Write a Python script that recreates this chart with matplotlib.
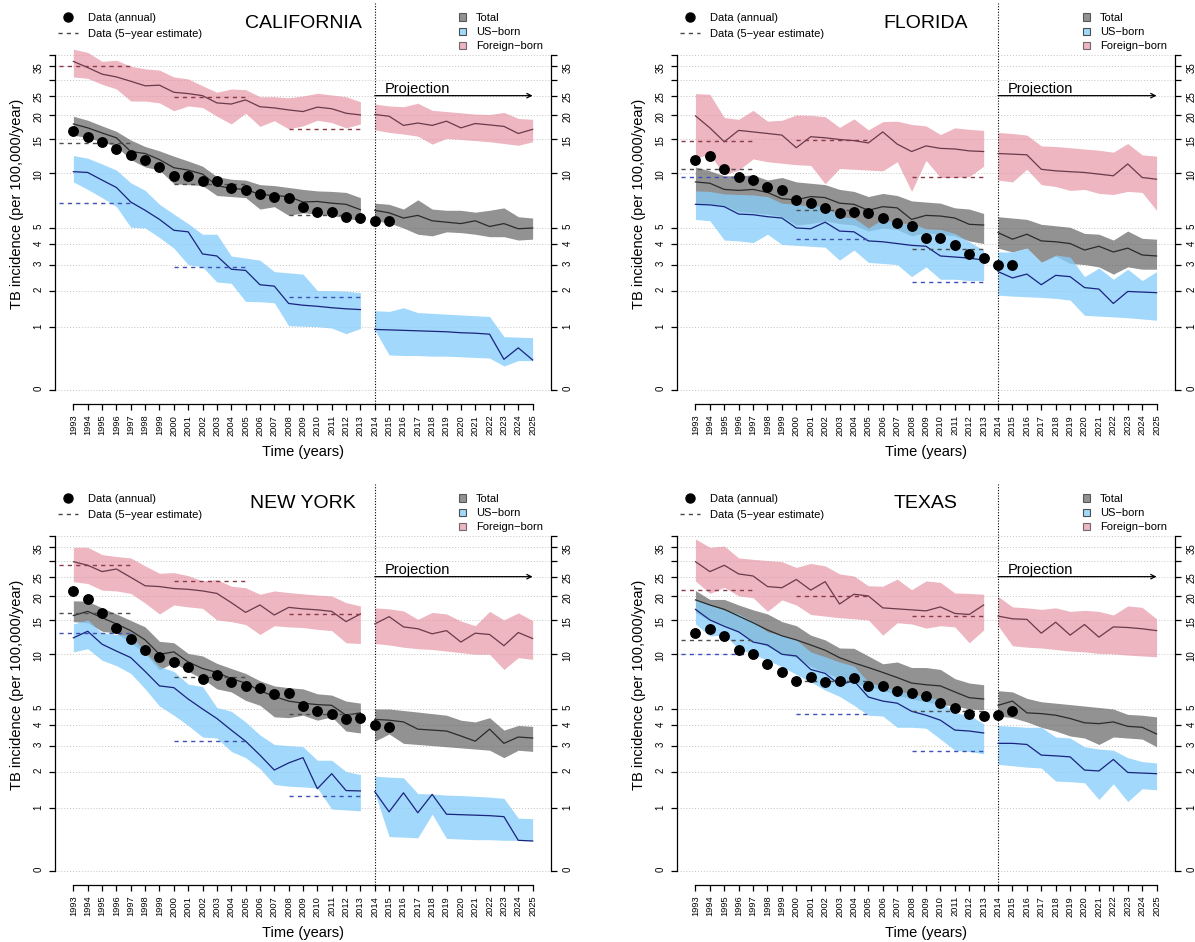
import numpy as np
import matplotlib
matplotlib.use("Agg")
import matplotlib.pyplot as plt
from matplotlib.lines import Line2D
from matplotlib.patches import Patch

plt.rcParams['font.family'] = ['Liberation Sans', 'DejaVu Sans']

# ---- data ----
years = np.arange(1993, 2026)          # model years, 1993-2013 fitted, 2014-2025 projection
years_obs = np.arange(1993, 2016)      # annual notifications
est_start = [1992, 2000, 2008]         # 5-year estimate periods
est_end = [1997, 2005, 2013]

# California
ca_total_mid = [18, 17.2, 16.2, 15.3, 13, 12.7, 11.8, 10.7, 10.4, 9.9, 8.6, 8.3, 8.2, 7.7, 7.6, 7.5, 7.0, 7.05, 6.9, 6.8, 6.35,
                6.3, 6.1, 5.7, 5.9, 5.5, 5.4, 5.3, 5.5, 5.1, 5.3, 4.95, 5.0]
ca_total_lo = [15.8, 15.3, 14.6, 13.8, 11.8, 10.8, 10.4, 8.8, 8.7, 8.6, 7.6, 7.5, 7.4, 6.4, 6.6, 5.9, 6.1, 6.0, 5.9, 5.7, 5.5,
               5.5, 5.35, 5.0, 4.6, 4.5, 4.75, 4.7, 4.6, 4.45, 4.45, 4.25, 4.3]
ca_total_hi = [19.7, 18.8, 17.6, 16.5, 14.9, 13.8, 13.1, 12.3, 11.6, 10.9, 9.6, 9.3, 9.2, 8.7, 8.6, 8.4, 8.2, 8.05, 8.0, 7.9, 7.4,
               6.9, 6.8, 6.4, 7.2, 6.4, 6.3, 6.3, 6.15, 6.3, 6.5, 5.8, 5.7]
ca_us_mid = [10.2, 10.1, 9.2, 8.4, 7.0, 6.3, 5.6, 4.85, 4.75, 3.5, 3.4, 2.8, 2.75, 2.2, 2.15, 1.6, 1.55, 1.52, 1.48, 1.45, 1.43,
             0.95, 0.94, 0.93, 0.92, 0.91, 0.9, 0.88, 0.87, 0.85, 0.4, 0.59, 0.39]
ca_us_lo = [9.0, 8.2, 7.4, 6.6, 5.05, 5.0, 4.4, 3.8, 3.0, 2.9, 2.3, 2.25, 1.66, 1.65, 1.62, 1.03, 1.02, 1.01, 0.98, 0.86, 0.97,
            0.94, 0.47, 0.46, 0.46, 0.45, 0.45, 0.44, 0.43, 0.42, 0.3, 0.38, 0.38]
ca_us_hi = [12.4, 12.0, 11.2, 10.4, 8.9, 8.1, 6.8, 6.0, 5.3, 4.6, 4.6, 3.4, 3.3, 3.2, 2.7, 2.65, 2.6, 2.0, 2.0, 1.98, 1.93,
            1.4, 1.38, 1.48, 1.35, 1.33, 1.31, 1.29, 1.27, 1.25, 0.8, 0.79, 0.78]
ca_fb_mid = [37, 34.5, 32, 31, 29.5, 28, 28.2, 26, 25.6, 25, 23, 22.7, 23.8, 22, 21.7, 21.2, 20.8, 21.9, 21.5, 20.4, 20,
             20.1, 19.7, 17.7, 18.2, 17.7, 18.6, 17.2, 18.1, 17.8, 17.5, 16.1, 16.9]
ca_fb_lo = [31, 30.5, 28.5, 27, 23.5, 23.5, 23, 21, 22.2, 21.8, 19.7, 18, 20.4, 17.5, 18.7, 17, 17.6, 18.8, 18.3, 17.2, 18,
            16.8, 16.3, 16.0, 15.6, 14.2, 15.2, 15.0, 14.8, 14.6, 14.3, 14.0, 14.6]
ca_fb_hi = [42.5, 41, 37, 37.5, 35, 34, 33.5, 31, 30.3, 28, 26, 27, 26.8, 24.7, 24.7, 24.4, 24.9, 25.7, 25.2, 24.7, 23.3,
            22.7, 22.2, 22.0, 22.9, 21.1, 20.8, 20.5, 20.2, 20.1, 20.6, 19.2, 19.0]
ca_obs = [16.5, 15.4, 14.6, 13.4, 12.5, 11.7, 10.8, 9.7, 9.7, 9.1, 9.1, 8.3, 8.1, 7.7, 7.5, 7.4, 6.6, 6.2, 6.2, 5.8, 5.7, 5.5, 5.5]
ca_est_total = [14.4, 8.8, 5.9]
ca_est_us = [6.9, 2.9, 1.8]
ca_est_fb = [35, 24.5, 17]

# Florida
fl_total_mid = [9.0, 8.85, 8.2, 8.1, 8.2, 7.9, 7.3, 7.2, 7.5, 7.4, 6.9, 6.8, 6.3, 6.6, 6.5, 5.6, 5.9, 5.85, 5.7, 5.25, 5.2,
                4.7, 4.3, 4.6, 4.2, 4.15, 4.05, 3.7, 3.9, 3.6, 3.8, 3.45, 3.4]
fl_total_lo = [6.9, 6.85, 6.7, 6.2, 6.1, 6.0, 5.8, 5.2, 5.3, 5.5, 5.3, 5.2, 4.8, 5.0, 4.9, 4.5, 4.7, 4.6, 4.5, 4.2, 4.05,
               3.8, 3.6, 3.8, 3.1, 3.4, 3.05, 3.0, 2.9, 2.6, 2.9, 2.8, 2.8]
fl_total_hi = [10.8, 10.3, 9.7, 9.7, 9.8, 9.2, 9.5, 9.0, 8.85, 8.7, 8.2, 8.0, 7.5, 7.8, 7.6, 7.1, 7.0, 6.9, 6.5, 6.4, 6.05,
               5.8, 5.7, 5.6, 5.25, 5.15, 5.05, 4.65, 4.6, 4.25, 4.8, 4.35, 4.3]
fl_us_mid = [6.8, 6.75, 6.6, 6.0, 5.95, 5.8, 5.7, 5.0, 4.95, 5.4, 4.8, 4.75, 4.2, 4.15, 4.05, 3.95, 3.9, 3.4, 3.35, 3.3, 3.2,
             2.7, 2.45, 2.6, 2.2, 2.55, 2.5, 2.1, 2.05, 1.6, 1.97, 1.95, 1.93]
fl_us_lo = [5.6, 5.5, 4.25, 4.2, 4.1, 4.6, 4.0, 3.95, 3.9, 3.85, 3.2, 3.7, 3.1, 3.05, 3.0, 2.5, 2.9, 2.4, 2.4, 2.35, 2.35,
            1.85, 1.82, 1.8, 1.78, 1.75, 1.7, 1.28, 1.26, 1.24, 1.22, 1.19, 1.16]
fl_us_hi = [8.05, 8.0, 7.75, 7.7, 7.65, 7.5, 6.9, 6.8, 6.6, 6.7, 5.8, 5.7, 5.0, 5.6, 5.35, 5.3, 4.95, 4.9, 4.65, 4.15, 3.7,
            3.6, 3.6, 3.8, 3.1, 3.45, 3.35, 2.5, 2.85, 2.4, 2.8, 2.35, 2.7]
fl_fb_mid = [19.8, 17.2, 14.6, 16.7, 16.4, 16.1, 15.8, 13.6, 15.5, 15.3, 15.0, 14.8, 14.4, 16.4, 14.2, 13.0, 13.9, 13.5, 13.4, 13.1, 13.0,
             12.7, 12.6, 12.5, 10.5, 10.3, 10.2, 10.1, 9.9, 9.7, 11.2, 9.5, 9.3]
fl_fb_lo = [12.0, 12.6, 9.8, 10.4, 11.9, 11.5, 11.3, 11.1, 11.0, 8.8, 10.6, 10.5, 10.4, 10.3, 11.5, 8.0, 11.7, 9.5, 9.5, 9.6, 10.9,
            9.2, 9.0, 10.5, 8.7, 8.5, 8.1, 8.2, 7.8, 7.7, 8.0, 7.9, 6.3]
fl_fb_hi = [25.6, 25.4, 19.4, 19.0, 21.1, 18.6, 18.8, 20.0, 19.9, 19.6, 17.3, 19.1, 16.8, 18.5, 18.6, 17.9, 17.6, 15.9, 17.2, 16.9, 16.7,
            16.3, 16.1, 15.8, 13.9, 13.8, 13.6, 13.4, 13.2, 12.9, 14.3, 12.5, 12.3]
fl_obs = [11.8, 12.3, 10.6, 9.5, 9.2, 8.4, 8.1, 7.2, 6.95, 6.5, 6.1, 6.15, 6.1, 5.7, 5.35, 5.15, 4.4, 4.4, 3.95, 3.5, 3.3, 3.0, 3.0]
fl_est_total = [10.5, 6.3, 3.75]
fl_est_us = [9.5, 4.3, 2.3]
fl_est_fb = [14.8, 14.9, 9.5]

# New York
ny_total_mid = [15.9, 16.7, 15.5, 14.4, 13.3, 11.9, 10.0, 10.3, 9.1, 8.4, 8.0, 7.4, 7.0, 6.35, 5.9, 5.55, 5.4, 5.3, 5.25, 4.6, 4.75,
                4.35, 4.3, 4.2, 3.8, 3.75, 3.7, 3.45, 3.2, 3.8, 3.1, 3.4, 3.35]
ny_total_lo = [14.8, 14.6, 13.2, 12.9, 11.5, 10.1, 8.25, 9.05, 8.1, 7.4, 6.5, 6.25, 5.6, 5.25, 4.5, 4.45, 4.6, 4.3, 4.5, 3.7, 3.6,
               3.2, 3.55, 3.1, 3.05, 3.0, 2.95, 2.9, 2.85, 2.8, 2.5, 2.8, 2.75]
ny_total_hi = [18.9, 18.8, 17.4, 16.2, 15.0, 13.9, 11.7, 11.5, 10.1, 9.8, 8.95, 8.4, 7.9, 7.2, 6.75, 6.6, 6.5, 6.1, 6.0, 5.55, 5.4,
               5.0, 5.0, 4.9, 4.8, 4.7, 4.6, 4.3, 4.2, 4.45, 3.75, 4.0, 3.95]
ny_us_mid = [12.2, 13.2, 11.3, 10.4, 9.6, 8.1, 6.75, 6.6, 5.7, 5.0, 4.4, 3.75, 3.2, 2.6, 2.05, 2.3, 2.5, 1.48, 1.93, 1.43, 1.42,
             1.4, 0.92, 1.37, 0.9, 1.33, 0.87, 0.86, 0.85, 0.84, 0.82, 0.4, 0.39]
ny_us_lo = [10.3, 10.7, 9.3, 8.7, 7.9, 6.5, 5.2, 4.6, 4.0, 3.4, 3.35, 2.75, 2.5, 2.1, 1.6, 1.55, 1.53, 1.5, 0.98, 0.96, 0.94,
            1.38, 0.46, 0.45, 0.44, 0.87, 0.43, 0.42, 0.41, 0.41, 0.4, 0.4, 0.39]
ny_us_hi = [14.4, 15.1, 12.9, 12.7, 12.6, 10.3, 8.6, 8.1, 6.9, 6.7, 5.1, 4.85, 4.2, 3.5, 3.05, 3.0, 2.95, 2.4, 2.4, 2.0, 1.9,
            1.85, 1.82, 1.8, 1.35, 1.34, 1.31, 1.3, 1.28, 1.26, 1.23, 0.79, 0.78]
ny_fb_mid = [29.7, 28.5, 26.5, 27.3, 24.8, 22.5, 22.3, 21.8, 21.6, 21.2, 20.6, 18.5, 16.5, 18.0, 16.0, 17.5, 17.2, 17.0, 16.7, 14.8, 16.2,
             14.4, 15.7, 13.9, 13.6, 12.8, 13.3, 11.6, 12.9, 12.7, 11.1, 13.0, 12.1]
ny_fb_lo = [23.6, 23.1, 21.4, 21.2, 20.6, 18.4, 16.2, 18.0, 17.6, 17.3, 15.1, 14.8, 14.3, 12.7, 14.1, 13.9, 13.8, 13.5, 13.3, 11.5, 11.4,
            11.4, 11.2, 10.9, 10.7, 10.6, 10.4, 10.2, 10.0, 10.0, 8.3, 9.6, 9.4]
ny_fb_hi = [35, 35, 32.2, 31.5, 31, 28.3, 26, 26.2, 25.3, 23.8, 24.2, 22.4, 22, 20.4, 21.2, 20.8, 20.5, 20.2, 20.0, 18.5, 17.8,
            17.4, 17.2, 16.8, 15.2, 16.5, 16.2, 14.9, 14.1, 16.7, 15.1, 16.4, 15.0]
ny_obs = [21.1, 19.4, 16.3, 13.7, 12.0, 10.5, 9.7, 9.05, 8.6, 7.4, 7.7, 7.1, 6.75, 6.6, 6.1, 6.2, 5.2, 4.9, 4.65, 4.4, 4.45, 4.0, 3.9]
ny_est_total = [16.4, 7.6, 4.65]
ny_est_us = [13, 3.2, 1.29]
ny_est_fb = [28.5, 23.8, 16.2]

# Texas
tx_total_mid = [19.1, 18, 17.1, 15.8, 14.6, 13.4, 12.5, 11.9, 11.2, 10.5, 9.6, 9.0, 8.5, 8.0, 7.5, 7.0, 6.85, 6.75, 6.25, 5.8, 5.7,
                5.25, 5.55, 4.75, 4.7, 4.6, 4.4, 4.15, 4.1, 4.2, 3.95, 3.9, 3.55]
tx_total_lo = [16.5, 15.0, 14.2, 13.0, 11.8, 11.0, 10.0, 9.6, 8.6, 8.0, 7.4, 7.0, 6.7, 6.4, 6.0, 5.7, 5.5, 5.3, 5.2, 5.0, 4.95,
               4.55, 4.45, 4.2, 3.9, 3.7, 3.45, 3.35, 3.05, 3.4, 3.35, 3.3, 2.95]
tx_total_hi = [21.3, 19.2, 19.2, 18.0, 17.0, 16.2, 14.8, 14.1, 12.6, 11.9, 10.8, 10.75, 9.8, 8.9, 9.1, 8.5, 8.5, 8.3, 7.4, 7.0, 6.85,
               6.35, 6.25, 5.75, 5.5, 5.4, 5.3, 5.2, 5.1, 5.0, 4.65, 4.6, 4.5]
tx_us_mid = [17.1, 15.1, 14.0, 13.1, 11.6, 11.2, 10.0, 9.8, 8.3, 7.9, 6.85, 7.2, 5.85, 5.55, 5.4, 4.85, 4.6, 4.3, 3.75, 3.7, 3.6,
             3.1, 3.1, 3.05, 2.6, 2.57, 2.53, 2.05, 2.02, 2.43, 1.97, 1.95, 1.93]
tx_us_lo = [14.4, 12.5, 12.6, 10.7, 10.0, 9.3, 8.6, 7.8, 7.1, 6.4, 5.9, 5.25, 4.6, 4.55, 3.9, 3.9, 3.85, 3.3, 2.8, 2.75, 2.65,
            2.25, 2.2, 2.15, 2.12, 1.7, 1.68, 1.65, 1.2, 1.62, 1.15, 1.48, 1.45]
tx_us_hi = [19.2, 18.0, 17.0, 16.2, 14.8, 13.1, 12.6, 11.9, 10.3, 9.7, 9.1, 8.65, 7.1, 6.7, 6.35, 6.1, 5.9, 5.6, 4.75, 4.6, 4.1,
            4.0, 3.95, 3.9, 3.9, 3.4, 3.35, 2.95, 2.85, 2.8, 2.5, 2.35, 2.3]
tx_fb_mid = [29.7, 26.5, 28.5, 25.8, 25.2, 22.3, 22.0, 24.2, 21.4, 23.6, 18.2, 20.4, 20.0, 17.4, 17.2, 17.0, 16.8, 17.6, 16.3, 16.1, 18.0,
             15.8, 15.3, 15.2, 12.9, 14.7, 12.6, 14.3, 12.3, 13.9, 13.8, 13.6, 13.3]
tx_fb_lo = [23.8, 20.6, 22.1, 20.0, 19.6, 16.7, 19.1, 18.0, 16.1, 15.8, 15.5, 15.3, 15.1, 12.6, 14.6, 14.4, 13.7, 14.1, 13.9, 11.5, 13.4,
            14.1, 11.1, 10.9, 10.8, 10.6, 10.4, 10.3, 10.1, 10.05, 9.9, 9.8, 9.7]
tx_fb_hi = [38.5, 35, 35.5, 31, 30.5, 30.1, 29.7, 27.8, 29.1, 28.3, 25.8, 25.2, 22.5, 22.4, 24.3, 21.5, 23.8, 23.4, 20.7, 20.6, 20.4,
            19.9, 17.6, 17.4, 17.1, 17.4, 16.7, 16.9, 16.7, 16.0, 17.8, 17.5, 15.3]
tx_obs = [13.0, 13.5, 12.4, 10.6, 10.0, 8.9, 8.0, 7.15, 7.6, 7.1, 7.2, 7.5, 6.7, 6.7, 6.3, 6.15, 5.95, 5.4, 5.05, 4.65, 4.55, 4.6, 4.9]
tx_est_total = [11.9, 7.15, 4.9]
tx_est_us = [10, 4.7, 2.75]
tx_est_fb = [21.5, 20, 15.9]

yticks = [0, 1, 2, 3, 4, 5, 10, 15, 20, 25, 30, 35, 40]
ytick_labels = ['0', '1', '2', '3', '4', '5', '10', '15', '20', '25', '', '35', '']

# colours
band_col = {'total': ('#5e5e5e', 0.68), 'us': ('#87CEFA', 0.78), 'fb': ('#E38A9B', 0.62)}
line_col = {'total': '#2b2b2b', 'us': '#1a237e', 'fb': '#6b3a4b'}
dash_col = {'total': '#4d4d4d', 'us': '#3f51b5', 'fb': '#8b3a4a'}

panels = [
    ('CALIFORNIA', (55, 551, 3, 404),
     {'total': (ca_total_mid, ca_total_lo, ca_total_hi), 'us': (ca_us_mid, ca_us_lo, ca_us_hi), 'fb': (ca_fb_mid, ca_fb_lo, ca_fb_hi)},
     ca_obs, {'total': ca_est_total, 'us': ca_est_us, 'fb': ca_est_fb}),
    ('FLORIDA', (677, 1175, 3, 404),
     {'total': (fl_total_mid, fl_total_lo, fl_total_hi), 'us': (fl_us_mid, fl_us_lo, fl_us_hi), 'fb': (fl_fb_mid, fl_fb_lo, fl_fb_hi)},
     fl_obs, {'total': fl_est_total, 'us': fl_est_us, 'fb': fl_est_fb}),
    ('NEW YORK', (55, 551, 484, 885),
     {'total': (ny_total_mid, ny_total_lo, ny_total_hi), 'us': (ny_us_mid, ny_us_lo, ny_us_hi), 'fb': (ny_fb_mid, ny_fb_lo, ny_fb_hi)},
     ny_obs, {'total': ny_est_total, 'us': ny_est_us, 'fb': ny_est_fb}),
    ('TEXAS', (677, 1175, 484, 885),
     {'total': (tx_total_mid, tx_total_lo, tx_total_hi), 'us': (tx_us_mid, tx_us_lo, tx_us_hi), 'fb': (tx_fb_mid, tx_fb_lo, tx_fb_hi)},
     tx_obs, {'total': tx_est_total, 'us': tx_est_us, 'fb': tx_est_fb}),
]

W, H = 1195, 942
fig = plt.figure(figsize=(W / 100, H / 100), dpi=100)

hist = slice(0, 21)
proj = slice(21, 33)

for name, (L, R, T, B), series, obs, est in panels:
    ax = fig.add_axes([L / W, 1 - B / H, (R - L) / W, (B - T) / H])
    ax.set_yscale('function', functions=(np.log1p, np.expm1))
    ax.set_xlim(1991.72, 2026.28)
    ax.set_ylim(-0.1466, 71.6)

    # uncertainty bands
    for key in ['total', 'fb', 'us']:
        mid, lo, hi = (np.array(a) for a in series[key])
        c, a = band_col[key]
        for s in (hist, proj):
            ax.fill_between(years[s], lo[s], hi[s], color=c, alpha=a, lw=0, zorder=1)
    # mean lines
    for key in ['total', 'fb', 'us']:
        mid = np.array(series[key][0])
        for s in (hist, proj):
            ax.plot(years[s], mid[s], color=line_col[key], lw=0.9, zorder=3)
    # 5-year estimates
    for key in ['total', 'fb', 'us']:
        for x0, x1, v in zip(est_start, est_end, est[key]):
            ax.plot([x0, x1], [v, v], color=dash_col[key], lw=1.0, ls=(0, (3, 3)), zorder=4)
    # annual data
    ax.plot(years_obs, obs, 'o', color='black', ms=6.8, zorder=5)

    ax.axvline(2014, color='black', lw=0.8, ls=(0, (1, 1.5)), zorder=2)

    ax.annotate('', xy=(2025, 25), xytext=(2014, 25),
                arrowprops=dict(arrowstyle='->', lw=0.9, color='black', shrinkA=0, shrinkB=0, mutation_scale=8))
    ax.text(2014.7, 25.9, 'Projection', fontsize=10.5, va='baseline', ha='left')

    # axes
    ax.set_yticks(yticks)
    ax.set_yticklabels(ytick_labels)
    ax.grid(axis='y', color='#c4c4c4', lw=0.7, ls=(0, (1, 2)))
    ax.set_axisbelow(True)
    ax.tick_params(axis='y', left=True, right=True, labelleft=True, labelright=True,
                   length=4.3, width=0.9, pad=4, labelsize=7, labelrotation=90)
    ax.set_xticks(years)
    ax.set_xticklabels([str(y) for y in years], rotation=90, fontsize=6.7)
    ax.tick_params(axis='x', length=4.3, width=0.9, pad=3.5)
    ax.tick_params(which='minor', length=0)
    ax.spines['top'].set_visible(False)
    for sp in ['left', 'right']:
        ax.spines[sp].set_bounds(0, 40)
        ax.spines[sp].set_linewidth(0.9)
    ax.spines['bottom'].set_bounds(1993, 2025)
    ax.spines['bottom'].set_linewidth(0.9)

    ax.set_ylabel('TB incidence (per 100,000/year)', fontsize=10.5)
    ax.yaxis.set_label_coords(-0.077, 0.5)
    ax.yaxis.label.set_va('center')
    ax.set_xlabel('Time (years)', fontsize=10.5)
    ax.xaxis.set_label_coords(0.5, -0.12)
    ax.xaxis.label.set_va('center')

    # title
    fig.text((L + R) / 2 / W, 1 - (T + 20) / H, name, fontsize=14, ha='center', va='center')

    # legends
    h1 = [Line2D([], [], marker='o', ls='none', color='black', ms=6.5),
          Line2D([], [], ls=(0, (3, 3)), color='#444444', lw=1.0)]
    leg1 = ax.legend(h1, ['Data (annual)', 'Data (5\u2212year estimate)'], loc='upper left',
                     bbox_to_anchor=((L + 3) / W, 1 - (T + 10) / H), bbox_transform=fig.transFigure,
                     frameon=False, fontsize=8, handlelength=1.8, handletextpad=0.9,
                     labelspacing=0.5, borderpad=0, borderaxespad=0)
    h2 = [Patch(facecolor=band_col[k][0], alpha=band_col[k][1], edgecolor='#222222', lw=0.8)
          for k in ['total', 'us', 'fb']]
    leg2 = ax.legend(h2, ['Total', 'US\u2212born', 'Foreign\u2212born'], loc='upper left',
                     bbox_to_anchor=((R - 92) / W, 1 - (T + 10) / H), bbox_transform=fig.transFigure,
                     frameon=False, fontsize=8, handlelength=0.65, handleheight=0.65, handletextpad=0.9,
                     labelspacing=0.38, borderpad=0, borderaxespad=0)
    ax.add_artist(leg1)

fig.savefig('out.png', dpi=100)
